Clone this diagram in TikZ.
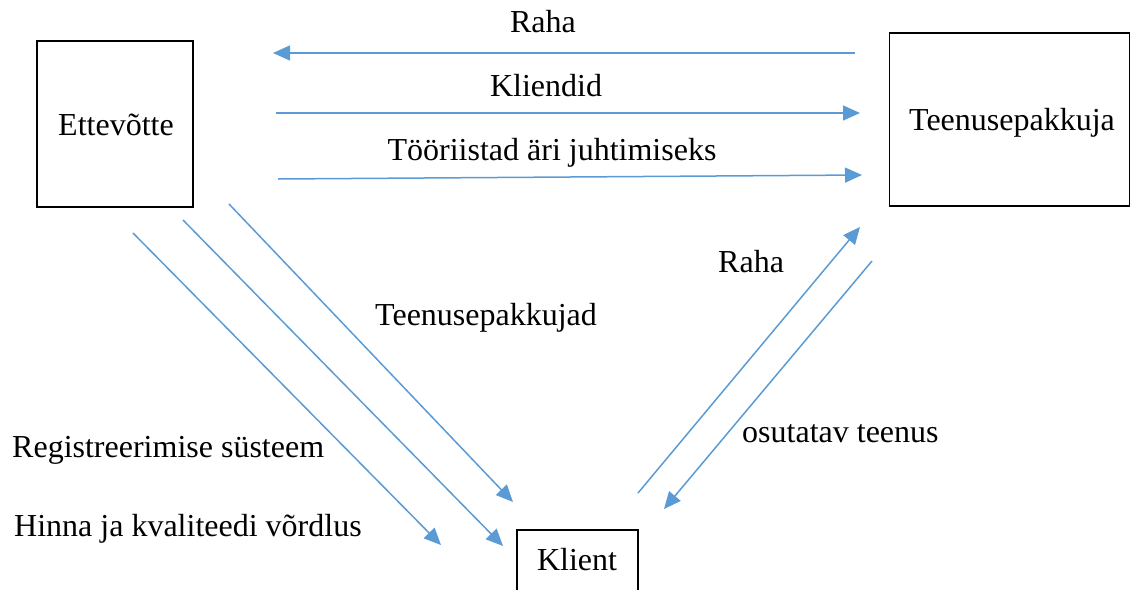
\documentclass[tikz,border=0pt]{standalone}
\usepackage{fontspec}
\setmainfont{Liberation Serif}
\usetikzlibrary{arrows.meta}
\definecolor{flowblue}{HTML}{5B9BD5}
\tikzset{
  party/.style={draw=black, line width=1.6pt, inner sep=0pt},
  flow/.style={draw=flowblue, line width=1.5pt, -{Triangle[length=17pt,width=15pt]}},
  lbl/.style={anchor=base, inner sep=0pt, font=\fontsize{32}{38}\selectfont},
  lbll/.style={anchor=base west, inner sep=0pt, font=\fontsize{32}{38}\selectfont}
}
\begin{document}
\begin{tikzpicture}[x=1pt,y=-1pt]
\useasboundingbox (0,0) rectangle (1131,589);

% the three parties
\node[party, minimum width=156pt, minimum height=166pt] (firm) at (115,124) {};
\node[lbl] (firmtxt) at (116,135) {Ettevõtte};
\node[party, minimum width=240pt, minimum height=173pt] (prov) at (1009.5,119.5) {};
\node[lbl] (provtxt) at (1012,130) {Teenusepakkuja};
\node[party, minimum width=121pt, minimum height=80pt] (client) at (577.5,570) {};
\node[lbl] (clienttxt) at (577,570) {Klient};

% end points of the flows
\coordinate (r1s) at (855,53);   \coordinate (r1e) at (273,53);
\coordinate (k1s) at (276,113);  \coordinate (k1e) at (860,113);
\coordinate (t1s) at (278,179);  \coordinate (t1e) at (862,175);
\coordinate (d1s) at (229,204);  \coordinate (d1e) at (513,502);
\coordinate (d2s) at (183,220);  \coordinate (d2e) at (503,546);
\coordinate (d3s) at (133,233);  \coordinate (d3e) at (441,545);
\coordinate (u1s) at (638,493);  \coordinate (u1e) at (860,227);
\coordinate (u2s) at (872,261);  \coordinate (u2e) at (664,509);

% flows between the parties
\draw[flow] (r1s) -- (r1e);
\draw[flow] (k1s) -- (k1e);
\draw[flow] (t1s) -- (t1e);
\draw[flow] (d1s) -- (d1e);
\draw[flow] (d2s) -- (d2e);
\draw[flow] (d3s) -- (d3e);
\draw[flow] (u1s) -- (u1e);
\draw[flow] (u2s) -- (u2e);

% flow labels
\node[lbl] (lraha) at (543,32) {Raha};
\node[lbl] (lkli) at (546,96) {Kliendid};
\node[lbl] (ltoo) at (552,160) {Tööriistad äri juhtimiseks};
\node[lbll] (lteen) at (375,325) {Teenusepakkujad};
\node[lbll] (lraha2) at (718,272) {Raha};
\node[lbll] (losu) at (742,442) {osutatav teenus};
\node[lbll] (lreg) at (12,457) {Registreerimise süsteem};
\node[lbll] (lhin) at (14,536) {Hinna ja kvaliteedi võrdlus};
\end{tikzpicture}
\end{document}
